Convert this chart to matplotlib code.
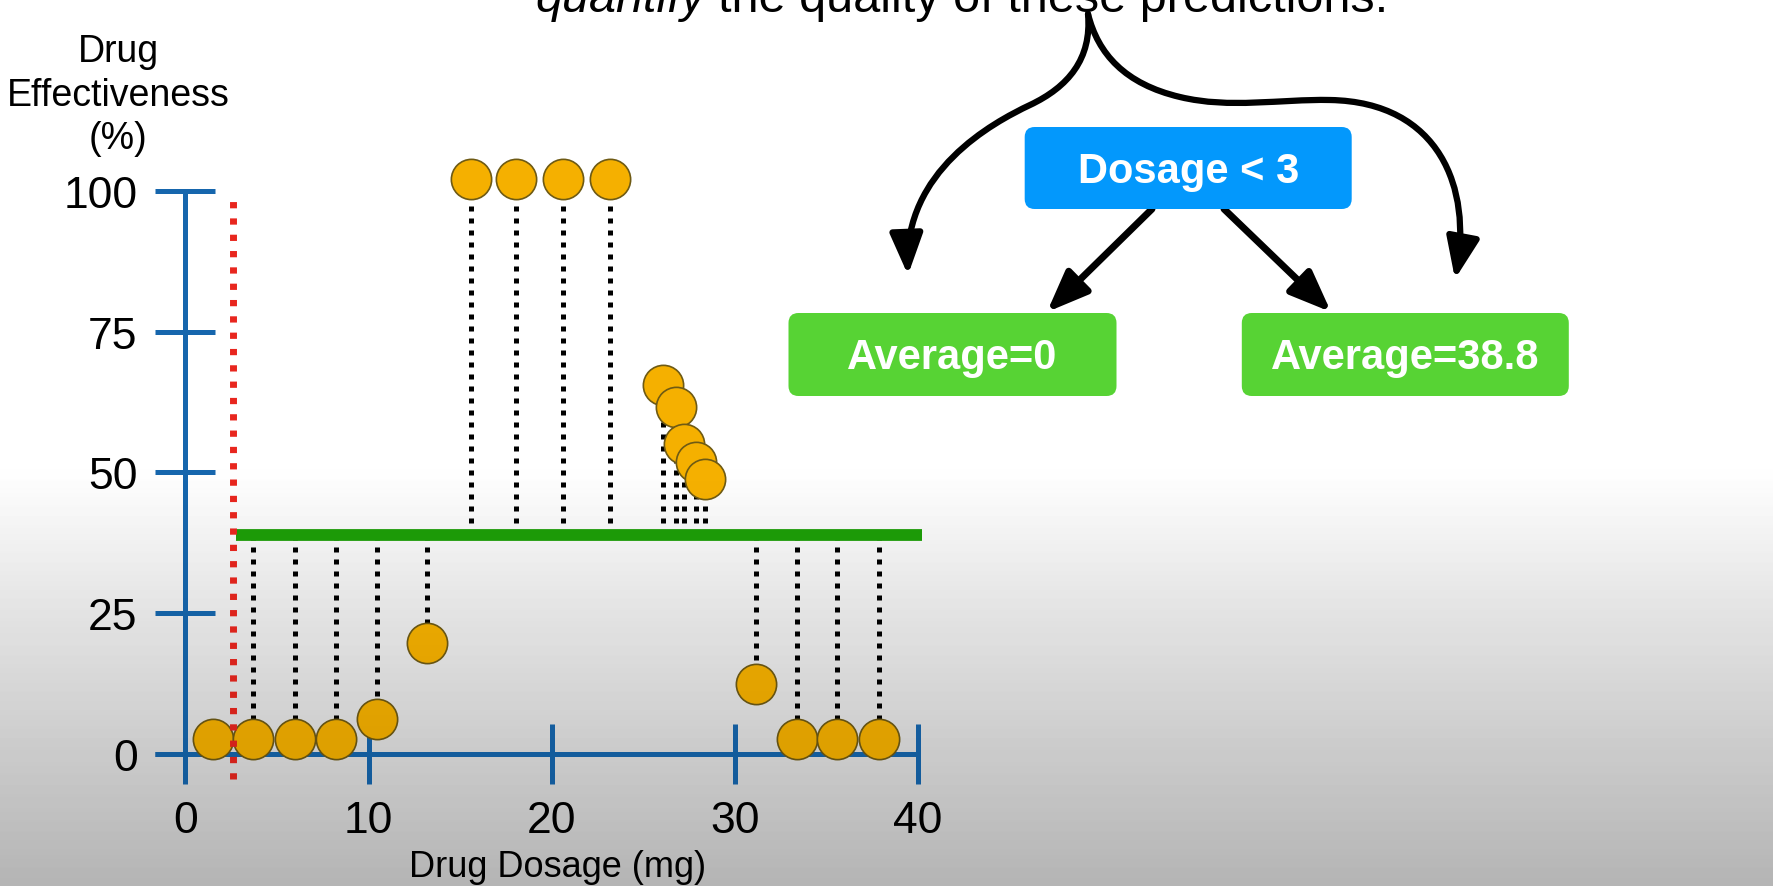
import numpy as np
import matplotlib
matplotlib.use("Agg")
import matplotlib.pyplot as plt
from matplotlib.patches import FancyBboxPatch, FancyArrowPatch, ArrowStyle
from matplotlib.path import Path

# data
dosage = [1.5, 3.7, 6.0, 8.2, 10.45, 13.2, 15.6, 18.05, 20.6, 23.2,
          26.06, 26.8, 27.2, 27.9, 28.35, 31.15, 33.4, 35.6, 37.85]
effect = [2.6, 2.6, 2.6, 2.6, 6.2, 19.6, 102.2, 102.2, 102.2, 102.2,
          65.6, 61.6, 55.0, 51.8, 48.8, 12.3, 2.6, 2.6, 2.6]
split_x = 2.6
right_avg = 38.8
xticks = [0, 10, 20, 30, 40]
yticks = [0, 25, 50, 75, 100]

root_label = "Dosage < 3"
leaf_labels = ["Average=0", "Average=38.8"]

blue = "#1666ad"
gold = "#f5b000"

plt.rcParams["font.family"] = ["Liberation Sans", "DejaVu Sans"]

W, H = 1774, 887
fig = plt.figure(figsize=(W / 100, H / 100), dpi=100)
fig.patch.set_facecolor("white")

# grey backdrop that fades in toward the bottom
bg = fig.add_axes([0, 0, 1, 1], zorder=-1)
rows = np.arange(H)
grey = 1 - np.clip((rows - 470) / 417, 0, 1) * (45 / 255)
bg.imshow(np.repeat(grey[:, None, None], 3, axis=2), extent=(0, W, H, 0),
          aspect="auto", interpolation="bilinear")
bg.set_xlim(0, W)
bg.set_ylim(H, 0)
bg.axis("off")

# main chart
ax = fig.add_axes([93.9 / W, 87.4 / H, 860.7 / W, 652.3 / H])
ax.set_xlim(-5, 42)
ax.set_ylim(-8, 108)
ax.patch.set_visible(False)
for s in ["top", "right"]:
    ax.spines[s].set_visible(False)
ax.spines["left"].set_position(("data", 0))
ax.spines["left"].set_bounds(-4.6, 100)
ax.spines["bottom"].set_position(("data", 0))
ax.spines["bottom"].set_bounds(-1.64, 40)
for s in ["left", "bottom"]:
    ax.spines[s].set_color(blue)
    ax.spines[s].set_linewidth(3.6)
    ax.spines[s].set_capstyle("butt")
ax.set_xticks(xticks)
ax.set_yticks(yticks)
ax.tick_params(direction="inout", length=43, width=3.6, color=blue,
               labelsize=32, labelcolor="black")
ax.tick_params(axis="y", pad=13)
ax.tick_params(axis="x", pad=12)

ax.set_xlabel("Drug Dosage (mg)", fontsize=26, va="baseline")
ax.xaxis.set_label_coords(0.539, -0.1187)
fig.text(118 / W, 1 - 34 / H, "Drug\nEffectiveness\n(%)", ha="center",
         va="top", fontsize=27, linespacing=1.27, multialignment="center")

# residuals to the average line
for x, y in zip(dosage, effect):
    if x > split_x:
        ax.plot([x, x], [right_avg, y], color="black", lw=3.6,
                ls=(0, (1, 1.4)), zorder=2, clip_on=False)
ax.plot([split_x + 0.15, 40.2], [right_avg, right_avg], color="#1d9e08",
        lw=8.5, solid_capstyle="butt", zorder=3, clip_on=False)
ax.plot(dosage, effect, "o", ms=29, mfc=gold, mec="#6e5a14", mew=1.2,
        zorder=4, clip_on=False)
ax.plot([split_x, split_x], [-4.6, 99.4], color="#e8261e", lw=5,
        ls=(0, (0.9, 1.45)), zorder=5, clip_on=False)

# tree diagram and annotations (pixel coordinates)
ov = fig.add_axes([0, 0, 1, 1])
ov.set_xlim(0, W)
ov.set_ylim(H, 0)
ov.axis("off")

boxes = [(1024.7, 128, 327, 82, "#0398fc", root_label),
         (788.5, 314, 328, 83, "#57d334", leaf_labels[0]),
         (1241.8, 314, 327, 83, "#57d334", leaf_labels[1])]
for bx, by, bw, bh, c, label in boxes:
    ov.add_patch(FancyBboxPatch((bx, by), bw, bh,
                                boxstyle="round,pad=0,rounding_size=10",
                                fc=c, ec="none", zorder=3))
    ov.text(bx + bw / 2, by + bh / 2 + 14, label, color="white",
            fontsize=30, fontweight="bold", ha="center", va="baseline",
            zorder=4)

head = ArrowStyle("-|>", head_length=2.5, head_width=1.0)
for a, b in [((1152, 210), (1047, 313)), ((1224, 210), (1331, 313))]:
    ov.add_patch(FancyArrowPatch(a, b, arrowstyle=head, mutation_scale=10,
                                 lw=5, color="black", shrinkA=0, shrinkB=0,
                                 zorder=2))

C = Path.CURVE4
left_arm = Path([(1088, 15), (1092, 60), (1068, 88), (1030, 106),
                 (992, 124), (904, 172), (908, 276)],
                [Path.MOVETO, C, C, C, C, C, C])
right_arm = Path([(1088, 15), (1098, 55), (1125, 85), (1180, 98),
                  (1230, 110), (1280, 100), (1330, 101),
                  (1440, 103), (1472, 190), (1455, 280)],
                 [Path.MOVETO, C, C, C, C, C, C, C, C, C])
for p in [left_arm, right_arm]:
    ov.add_patch(FancyArrowPatch(path=p, arrowstyle=head, mutation_scale=10,
                                 lw=4.5, color="black", zorder=2))

fig.text(535 / W, 1 - 12 / H, "quantify", style="italic", fontsize=35,
         va="baseline")
fig.text(718 / W, 1 - 12 / H, "the quality of these predictions.",
         fontsize=35, va="baseline")

# light shading over the marks toward the bottom of the frame
alpha = np.clip((rows - 470) / 417, 0, 1) * 0.14
shade = np.zeros((H, 1, 4))
shade[:, 0, 3] = alpha
ov.imshow(shade, extent=(0, W, H, 0), aspect="auto", zorder=20,
          interpolation="bilinear")

fig.savefig("out.png", dpi=100)
